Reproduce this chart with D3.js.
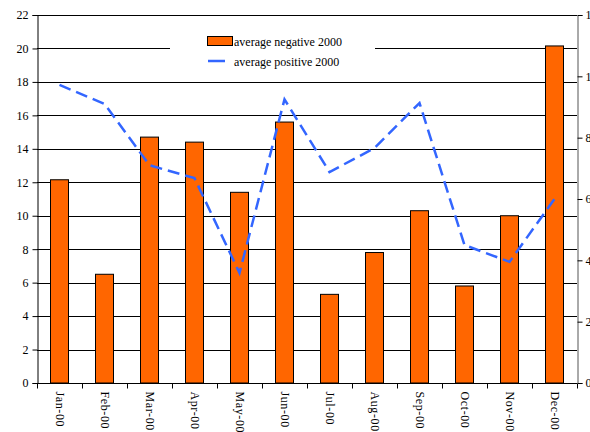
<!DOCTYPE html>
<html><head><meta charset="utf-8">
<script src="https://cdn.jsdelivr.net/npm/d3@7"></script>
<style>body{margin:0;background:#fff}svg{display:block}</style>
</head><body>
<svg id="c" width="590" height="432"></svg>
<script>
const months = ["Jan-00","Feb-00","Mar-00","Apr-00","May-00","Jun-00","Jul-00","Aug-00","Sep-00","Oct-00","Nov-00","Dec-00"];
const negative = [12.15, 6.5, 14.7, 14.4, 11.4, 15.6, 5.3, 7.8, 10.3, 5.8, 10.0, 20.15];
const positive = [9.72, 9.1, 7.1, 6.68, 3.59, 9.25, 6.88, 7.66, 9.13, 4.5, 3.95, 6.0];
const leftTicks = [0,2,4,6,8,10,12,14,16,18,20,22];
const rightTicks = [0,2,4,6,8,10,12];
const seriesNames = ["average negative 2000","average positive 2000"];

const FONT = "'Liberation Serif', 'Times New Roman', Times, serif";
const svg = d3.select("#c");
const L = 37, R = 577, T = 15, B = 383;
const x = d3.scaleBand().domain(months).range([L, R]);
const yL = d3.scaleLinear().domain([0,22]).range([B, T]);
const yR = d3.scaleLinear().domain([0,12]).range([B, T]);

// gridlines
svg.append("g").selectAll("line").data(leftTicks.filter(d=>d>0)).join("line")
  .attr("x1", L).attr("x2", R)
  .attr("y1", d=>Math.round(yL(d))+0.5).attr("y2", d=>Math.round(yL(d))+0.5)
  .attr("stroke", "#000").attr("stroke-width", 1);

// bars
const bw = 18;
svg.append("g").selectAll("rect").data(negative).join("rect")
  .attr("x", (d,i)=>x(months[i]) + x.bandwidth()/2 - bw/2)
  .attr("y", d=>yL(d))
  .attr("width", bw)
  .attr("height", d=>B - yL(d))
  .attr("fill", "#FF6600").attr("stroke", "#000").attr("stroke-width", 1);

// line
const line = d3.line().x((d,i)=>x(months[i]) + x.bandwidth()/2).y(d=>yR(d));
svg.append("path").datum(positive).attr("d", line)
  .attr("fill","none").attr("stroke","#3366FF").attr("stroke-width",2.5)
  .attr("stroke-dasharray","12,6");

// legend box
const lg = svg.append("g");
lg.append("rect").attr("x",170).attr("y",27).attr("width",205).attr("height",48).attr("fill","#fff");
lg.append("rect").attr("x",207.5).attr("y",36.5).attr("width",25).attr("height",9).attr("fill","#FF6600").attr("stroke","#000");
lg.append("text").attr("x",234).attr("y",46).text(seriesNames[0]);
lg.append("line").attr("x1",208).attr("x2",225).attr("y1",61).attr("y2",61).attr("stroke","#3366FF").attr("stroke-width",2.5);
lg.append("text").attr("x",234).attr("y",66).text(seriesNames[1]);

// left axis
const ax = d3.axisLeft(yL).tickValues(leftTicks).tickSize(5).tickPadding(4);
const gL = svg.append("g").attr("transform",`translate(${L+0.5},0)`).call(ax);
gL.select(".domain").attr("stroke","#000");

// right axis
const axR = d3.axisRight(yR).tickValues(rightTicks).tickSize(5).tickPadding(3);
const gR = svg.append("g").attr("transform",`translate(${R+0.5},0)`).call(axR);
gR.select(".domain").attr("stroke","#555");
gR.selectAll("line").attr("stroke","#000");

// bottom axis
const gB = svg.append("g").attr("transform",`translate(0,${B+0.5})`);
gB.append("line").attr("x1",L).attr("x2",R).attr("stroke","#000");
gB.selectAll("line.t").data(d3.range(months.length+1)).join("line").attr("class","t")
  .attr("x1", i=>Math.round(L + i*x.step())+0.5).attr("x2", i=>Math.round(L + i*x.step())+0.5)
  .attr("y1",0).attr("y2",5).attr("stroke","#000");
gB.selectAll("text").data(months).join("text")
  .attr("transform", d=>`translate(${x(d)+x.bandwidth()/2 - 4},8) rotate(90)`)
  .style("letter-spacing","0.6px")
  .attr("text-anchor","start").text(d=>d);

svg.selectAll("text").style("font-family", FONT).style("font-size","12px").attr("fill","#000");
</script>
</body></html>
